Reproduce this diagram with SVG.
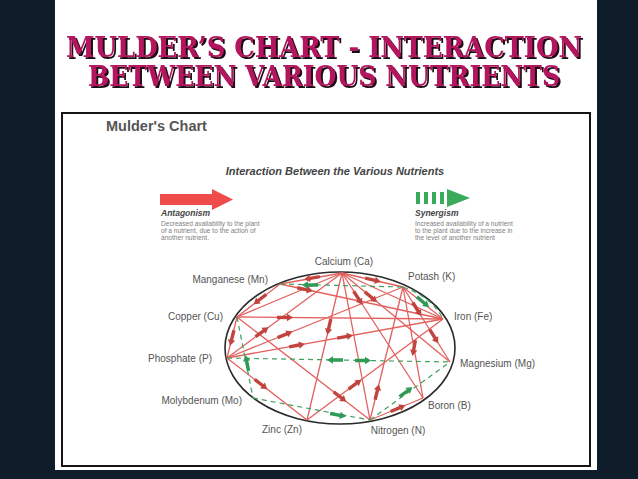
<svg xmlns="http://www.w3.org/2000/svg" xmlns:xlink="http://www.w3.org/1999/xlink" width="638" height="479" viewBox="0 0 638 479">
<style>
.title{font-family:"DejaVu Serif","Liberation Serif",serif;font-weight:bold;font-size:27px;fill:#b3145f;}
.lbl{font-family:"Liberation Sans",Arial,sans-serif;font-size:10px;fill:#555;}
.head{font-family:"Liberation Sans",Arial,sans-serif;font-weight:bold;font-style:italic;fill:#444;}
.desc{font-family:"Liberation Sans",Arial,sans-serif;font-size:6.6px;fill:#808080;}
.red{stroke:#e2605d;stroke-width:1.3;fill:none;}
.grn{stroke:#3f9f5f;stroke-width:1.2;stroke-dasharray:5 4;fill:none;}
.ra{fill:#c2443f;}
.ga{fill:#2f9a56;}
</style>
<defs>
<filter id="shadow" x="-5%" y="-20%" width="110%" height="140%">
<feOffset in="SourceAlpha" dx="2" dy="2" result="off"/>
<feFlood flood-color="#1a0a12"/>
<feComposite in2="off" operator="in" result="sh"/>
<feMerge><feMergeNode in="sh"/><feMergeNode in="SourceGraphic"/></feMerge>
</filter>
<path id="ar" d="M-8,-1.7 L2,-1.7 L2,-3.7 L8,0 L2,3.7 L2,1.7 L-8,1.7 Z"/>
</defs>
<rect x="0" y="0" width="638" height="479" fill="#0f1c29"/>
<rect x="55" y="0" width="542" height="470" fill="#ffffff"/>
<g id="title" filter="url(#shadow)">
<text class="title" x="324" y="57" text-anchor="middle" textLength="516" lengthAdjust="spacingAndGlyphs">MULDER’S CHART - INTERACTION</text>
<text class="title" x="324" y="86" text-anchor="middle" textLength="472" lengthAdjust="spacingAndGlyphs">BETWEEN VARIOUS NUTRIENTS</text>
</g>
<rect x="62" y="113" width="528" height="353" fill="#ffffff" stroke="#151515" stroke-width="2"/>
<text x="106" y="131" font-family="Liberation Sans, Arial, sans-serif" font-weight="bold" font-size="14.5" fill="#555">Mulder's Chart</text>
<text class="head" x="335" y="175" font-size="11" text-anchor="middle">Interaction Between the Various Nutrients</text>
<g id="legend-antagonism">
<path d="M160,194 L212,194 L212,189 L233,199.5 L212,210 L212,205 L160,205 Z" fill="#ef4b4b"/>
<text class="head" x="161" y="216" font-size="8.5">Antagonism</text>
<text class="desc" x="161" y="226">Decreased availability to the plant</text>
<text class="desc" x="161" y="233">of a nutrient, due to the action of</text>
<text class="desc" x="161" y="240">another nutrient.</text>
</g>
<g id="legend-synergism">
<rect x="416" y="192" width="4" height="12" fill="#3aaa5c"/>
<rect x="424" y="192" width="4" height="12" fill="#3aaa5c"/>
<rect x="432" y="192" width="4" height="12" fill="#3aaa5c"/>
<rect x="440" y="192" width="4" height="12" fill="#3aaa5c"/>
<path d="M447,189 L470,198 L447,207 Z" fill="#3aaa5c"/>
<text class="head" x="415" y="216" font-size="8.5">Synergism</text>
<text class="desc" x="415" y="226">Increased availability of a nutrient</text>
<text class="desc" x="415" y="233">to the plant due to the increase in</text>
<text class="desc" x="415" y="240">the level of another nutrient</text>
</g>
<ellipse cx="340" cy="348" rx="115" ry="76" fill="none" stroke="#2a2a2a" stroke-width="1.6"/>
<g id="connectors">
<line class="red" x1="342" y1="273" x2="280" y2="284"/>
<line class="red" x1="342" y1="273" x2="403" y2="287"/>
<line class="red" x1="342" y1="273" x2="307" y2="420"/>
<line class="red" x1="342" y1="273" x2="227" y2="358"/>
<line class="red" x1="342" y1="273" x2="423" y2="398"/>
<line class="red" x1="342" y1="273" x2="450" y2="362"/>
<line class="red" x1="342" y1="273" x2="443" y2="319"/>
<line class="red" x1="342" y1="273" x2="237" y2="317"/>
<line class="red" x1="342" y1="273" x2="370" y2="420"/>
<line class="red" x1="280" y1="284" x2="443" y2="319"/>
<line class="red" x1="280" y1="284" x2="237" y2="317"/>
<line class="red" x1="237" y1="317" x2="443" y2="319"/>
<line class="red" x1="237" y1="317" x2="227" y2="358"/>
<line class="red" x1="237" y1="317" x2="370" y2="420"/>
<line class="red" x1="227" y1="358" x2="443" y2="319"/>
<line class="red" x1="227" y1="358" x2="403" y2="287"/>
<line class="red" x1="227" y1="358" x2="307" y2="420"/>
<line class="red" x1="307" y1="420" x2="443" y2="319"/>
<line class="red" x1="370" y1="420" x2="403" y2="287"/>
<line class="red" x1="370" y1="420" x2="423" y2="398"/>
<line class="red" x1="423" y1="398" x2="403" y2="287"/>
<line class="red" x1="403" y1="287" x2="450" y2="362"/>
<line class="red" x1="403" y1="287" x2="443" y2="319"/>
<path class="grn" d="M280,284 L403,287"/>
<path class="grn" d="M403,287 Q432,297 443,319"/>
<path class="grn" d="M227,358 L450,362"/>
<path class="grn" d="M237,317 L253,398"/>
<path class="grn" d="M253,398 L370,420"/>
<path class="grn" d="M370,420 L450,362"/>
<use href="#ar" class="ra" transform="translate(312,278) rotate(170)"/>
<use href="#ar" class="ra" transform="translate(373,280) rotate(13)"/>
<use href="#ar" class="ra" transform="translate(329,327) rotate(103)"/>
<use href="#ar" class="ra" transform="translate(262,332) rotate(-36)"/>
<use href="#ar" class="ra" transform="translate(358,298) rotate(57)"/>
<use href="#ar" class="ra" transform="translate(371,297) rotate(39.5)"/>
<use href="#ar" class="ra" transform="translate(305,289.4) rotate(12)"/>
<use href="#ar" class="ra" transform="translate(260,299.3) rotate(142.5)"/>
<use href="#ar" class="ra" transform="translate(285,317.5) rotate(0.6)"/>
<use href="#ar" class="ra" transform="translate(232,338) rotate(104)"/>
<use href="#ar" class="ra" transform="translate(340,396.8) rotate(37.8)"/>
<use href="#ar" class="ra" transform="translate(297,345.4) rotate(-10.2)"/>
<use href="#ar" class="ra" transform="translate(345,336.7) rotate(-10.2)"/>
<use href="#ar" class="ra" transform="translate(285,334.6) rotate(-22)"/>
<use href="#ar" class="ra" transform="translate(261,384.3) rotate(37.8)"/>
<use href="#ar" class="ra" transform="translate(355,384.4) rotate(-36.6)"/>
<use href="#ar" class="ra" transform="translate(377,392) rotate(-76)"/>
<use href="#ar" class="ra" transform="translate(398,408.4) rotate(-22.5)"/>
<use href="#ar" class="ra" transform="translate(414,348) rotate(100)"/>
<use href="#ar" class="ra" transform="translate(417,309.3) rotate(58)"/>
<use href="#ar" class="ra" transform="translate(434,336.5) rotate(58)"/>
<use href="#ar" class="ga" transform="translate(310,285) rotate(180)"/>
<use href="#ar" class="ga" transform="translate(423,302) rotate(40)"/>
<use href="#ar" class="ga" transform="translate(335,360) rotate(180)"/>
<use href="#ar" class="ga" transform="translate(363,360.5) rotate(0)"/>
<use href="#ar" class="ga" transform="translate(247,363) rotate(-101)"/>
<use href="#ar" class="ga" transform="translate(338,415) rotate(10.6)"/>
<use href="#ar" class="ga" transform="translate(406,392) rotate(-36)"/>
</g>
<g id="node-ca"><text class="lbl" x="344" y="265" text-anchor="middle">Calcium (Ca)</text></g>
<g id="node-mn"><text class="lbl" x="268" y="283" text-anchor="end">Manganese (Mn)</text></g>
<g id="node-k"><text class="lbl" x="408" y="280">Potash (K)</text></g>
<g id="node-cu"><text class="lbl" x="223" y="320" text-anchor="end">Copper (Cu)</text></g>
<g id="node-fe"><text class="lbl" x="454" y="320">Iron (Fe)</text></g>
<g id="node-p"><text class="lbl" x="212" y="362" text-anchor="end">Phosphate (P)</text></g>
<g id="node-mg"><text class="lbl" x="460" y="367">Magnesium (Mg)</text></g>
<g id="node-mo"><text class="lbl" x="242" y="404" text-anchor="end">Molybdenum (Mo)</text></g>
<g id="node-b"><text class="lbl" x="428" y="409">Boron (B)</text></g>
<g id="node-zn"><text class="lbl" x="282" y="433" text-anchor="middle">Zinc (Zn)</text></g>
<g id="node-n"><text class="lbl" x="398" y="434" text-anchor="middle">Nitrogen (N)</text></g>
</svg>
